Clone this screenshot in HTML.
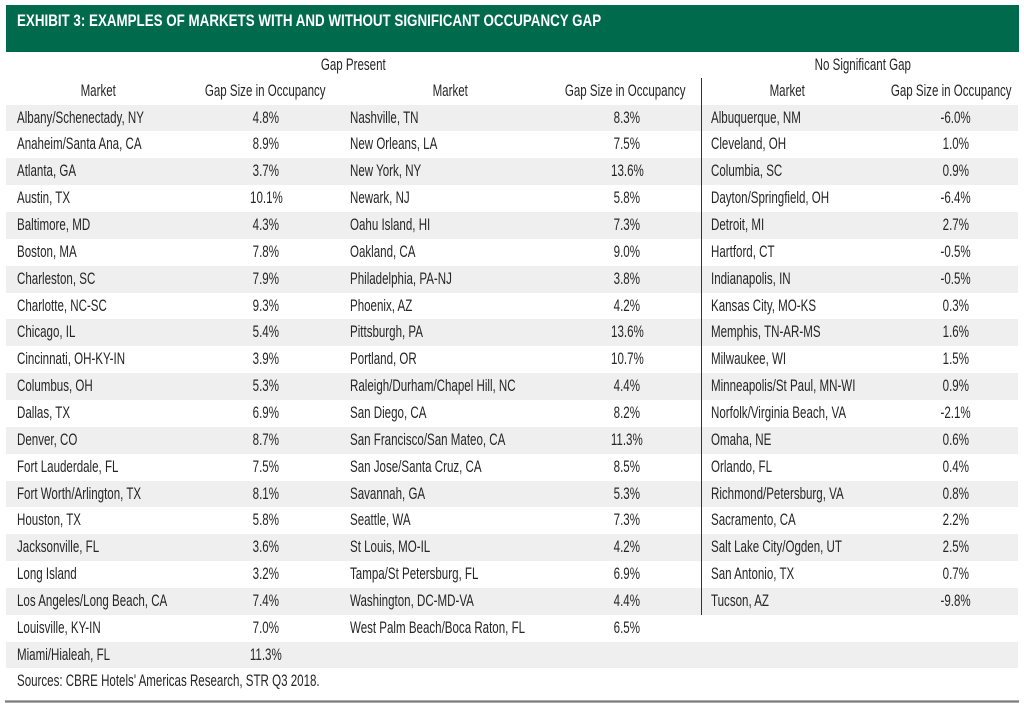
<!DOCTYPE html>
<html><head><meta charset="utf-8"><style>
*{margin:0;padding:0;box-sizing:border-box}
body{width:1024px;height:709px;background:#fff;position:relative;overflow:hidden;font-family:"Liberation Sans",Arial,sans-serif;color:#262626;font-size:16.5px}
.band{position:absolute;left:6px;top:5px;width:1013px;height:47px;background:#006a4d}
.title{position:absolute;left:17px;top:12px;height:18px;line-height:18px;color:#fff;font-weight:bold;white-space:nowrap}
.title span{display:inline-block;transform:scaleX(.81);transform-origin:left center}
.r{position:absolute;left:6px;width:1012px;height:26.85px;line-height:26.85px;white-space:nowrap}
.s{background:#efefef}
.l{position:absolute;top:0}
.l span{display:inline-block;transform:scaleX(.70);transform-origin:left center}
.c{position:absolute;top:0;width:240px;text-align:center}
.c span{display:inline-block;transform:scaleX(.70);transform-origin:center center}
.h{position:absolute;height:26px;line-height:26px;white-space:nowrap}
.vl{position:absolute;left:700.5px;top:78px;width:1.6px;height:537px;background:#333}
.bl{position:absolute;left:5px;top:699.5px;width:1014px;height:3px;background:#7d7d7d;border-top:0.5px solid #aaa;border-bottom:0.5px solid #aaa}
</style></head><body>
<div class="band"></div>
<div class="title"><span>EXHIBIT 3: EXAMPLES OF MARKETS WITH AND WITHOUT SIGNIFICANT OCCUPANCY GAP</span></div>

<div class="r" style="top:52px"><div class="c" style="left:227px"><span>Gap Present</span></div><div class="c" style="left:737px"><span>No Significant Gap</span></div></div>
<div class="r" style="top:78px">
<div class="c" style="left:-28px"><span>Market</span></div>
<div class="c" style="left:139px"><span>Gap Size in Occupancy</span></div>
<div class="c" style="left:324px"><span>Market</span></div>
<div class="c" style="left:499px"><span>Gap Size in Occupancy</span></div>
<div class="c" style="left:661px"><span>Market</span></div>
<div class="c" style="left:825px"><span>Gap Size in Occupancy</span></div>
</div>

<div class="r s" style="top:104.6px"><div class="l" style="left:11px"><span>Albany/Schenectady, NY</span></div><div class="c" style="left:140px"><span>4.8%</span></div><div class="l" style="left:344px"><span>Nashville, TN</span></div><div class="c" style="left:501px"><span>8.3%</span></div><div class="l" style="left:705px"><span>Albuquerque, NM</span></div><div class="c" style="left:830px"><span>-6.0%</span></div></div>
<div class="r" style="top:131.45px"><div class="l" style="left:11px"><span>Anaheim/Santa Ana, CA</span></div><div class="c" style="left:140px"><span>8.9%</span></div><div class="l" style="left:344px"><span>New Orleans, LA</span></div><div class="c" style="left:501px"><span>7.5%</span></div><div class="l" style="left:705px"><span>Cleveland, OH</span></div><div class="c" style="left:830px"><span>1.0%</span></div></div>
<div class="r s" style="top:158.3px"><div class="l" style="left:11px"><span>Atlanta, GA</span></div><div class="c" style="left:140px"><span>3.7%</span></div><div class="l" style="left:344px"><span>New York, NY</span></div><div class="c" style="left:501px"><span>13.6%</span></div><div class="l" style="left:705px"><span>Columbia, SC</span></div><div class="c" style="left:830px"><span>0.9%</span></div></div>
<div class="r" style="top:185.15px"><div class="l" style="left:11px"><span>Austin, TX</span></div><div class="c" style="left:140px"><span>10.1%</span></div><div class="l" style="left:344px"><span>Newark, NJ</span></div><div class="c" style="left:501px"><span>5.8%</span></div><div class="l" style="left:705px"><span>Dayton/Springfield, OH</span></div><div class="c" style="left:830px"><span>-6.4%</span></div></div>
<div class="r s" style="top:212px"><div class="l" style="left:11px"><span>Baltimore, MD</span></div><div class="c" style="left:140px"><span>4.3%</span></div><div class="l" style="left:344px"><span>Oahu Island, HI</span></div><div class="c" style="left:501px"><span>7.3%</span></div><div class="l" style="left:705px"><span>Detroit, MI</span></div><div class="c" style="left:830px"><span>2.7%</span></div></div>
<div class="r" style="top:238.85px"><div class="l" style="left:11px"><span>Boston, MA</span></div><div class="c" style="left:140px"><span>7.8%</span></div><div class="l" style="left:344px"><span>Oakland, CA</span></div><div class="c" style="left:501px"><span>9.0%</span></div><div class="l" style="left:705px"><span>Hartford, CT</span></div><div class="c" style="left:830px"><span>-0.5%</span></div></div>
<div class="r s" style="top:265.7px"><div class="l" style="left:11px"><span>Charleston, SC</span></div><div class="c" style="left:140px"><span>7.9%</span></div><div class="l" style="left:344px"><span>Philadelphia, PA-NJ</span></div><div class="c" style="left:501px"><span>3.8%</span></div><div class="l" style="left:705px"><span>Indianapolis, IN</span></div><div class="c" style="left:830px"><span>-0.5%</span></div></div>
<div class="r" style="top:292.55px"><div class="l" style="left:11px"><span>Charlotte, NC-SC</span></div><div class="c" style="left:140px"><span>9.3%</span></div><div class="l" style="left:344px"><span>Phoenix, AZ</span></div><div class="c" style="left:501px"><span>4.2%</span></div><div class="l" style="left:705px"><span>Kansas City, MO-KS</span></div><div class="c" style="left:830px"><span>0.3%</span></div></div>
<div class="r s" style="top:319.4px"><div class="l" style="left:11px"><span>Chicago, IL</span></div><div class="c" style="left:140px"><span>5.4%</span></div><div class="l" style="left:344px"><span>Pittsburgh, PA</span></div><div class="c" style="left:501px"><span>13.6%</span></div><div class="l" style="left:705px"><span>Memphis, TN-AR-MS</span></div><div class="c" style="left:830px"><span>1.6%</span></div></div>
<div class="r" style="top:346.25px"><div class="l" style="left:11px"><span>Cincinnati, OH-KY-IN</span></div><div class="c" style="left:140px"><span>3.9%</span></div><div class="l" style="left:344px"><span>Portland, OR</span></div><div class="c" style="left:501px"><span>10.7%</span></div><div class="l" style="left:705px"><span>Milwaukee, WI</span></div><div class="c" style="left:830px"><span>1.5%</span></div></div>
<div class="r s" style="top:373.1px"><div class="l" style="left:11px"><span>Columbus, OH</span></div><div class="c" style="left:140px"><span>5.3%</span></div><div class="l" style="left:344px"><span>Raleigh/Durham/Chapel Hill, NC</span></div><div class="c" style="left:501px"><span>4.4%</span></div><div class="l" style="left:705px"><span>Minneapolis/St Paul, MN-WI</span></div><div class="c" style="left:830px"><span>0.9%</span></div></div>
<div class="r" style="top:399.95px"><div class="l" style="left:11px"><span>Dallas, TX</span></div><div class="c" style="left:140px"><span>6.9%</span></div><div class="l" style="left:344px"><span>San Diego, CA</span></div><div class="c" style="left:501px"><span>8.2%</span></div><div class="l" style="left:705px"><span>Norfolk/Virginia Beach, VA</span></div><div class="c" style="left:830px"><span>-2.1%</span></div></div>
<div class="r s" style="top:426.8px"><div class="l" style="left:11px"><span>Denver, CO</span></div><div class="c" style="left:140px"><span>8.7%</span></div><div class="l" style="left:344px"><span>San Francisco/San Mateo, CA</span></div><div class="c" style="left:501px"><span>11.3%</span></div><div class="l" style="left:705px"><span>Omaha, NE</span></div><div class="c" style="left:830px"><span>0.6%</span></div></div>
<div class="r" style="top:453.65px"><div class="l" style="left:11px"><span>Fort Lauderdale, FL</span></div><div class="c" style="left:140px"><span>7.5%</span></div><div class="l" style="left:344px"><span>San Jose/Santa Cruz, CA</span></div><div class="c" style="left:501px"><span>8.5%</span></div><div class="l" style="left:705px"><span>Orlando, FL</span></div><div class="c" style="left:830px"><span>0.4%</span></div></div>
<div class="r s" style="top:480.5px"><div class="l" style="left:11px"><span>Fort Worth/Arlington, TX</span></div><div class="c" style="left:140px"><span>8.1%</span></div><div class="l" style="left:344px"><span>Savannah, GA</span></div><div class="c" style="left:501px"><span>5.3%</span></div><div class="l" style="left:705px"><span>Richmond/Petersburg, VA</span></div><div class="c" style="left:830px"><span>0.8%</span></div></div>
<div class="r" style="top:507.35px"><div class="l" style="left:11px"><span>Houston, TX</span></div><div class="c" style="left:140px"><span>5.8%</span></div><div class="l" style="left:344px"><span>Seattle, WA</span></div><div class="c" style="left:501px"><span>7.3%</span></div><div class="l" style="left:705px"><span>Sacramento, CA</span></div><div class="c" style="left:830px"><span>2.2%</span></div></div>
<div class="r s" style="top:534.2px"><div class="l" style="left:11px"><span>Jacksonville, FL</span></div><div class="c" style="left:140px"><span>3.6%</span></div><div class="l" style="left:344px"><span>St Louis, MO-IL</span></div><div class="c" style="left:501px"><span>4.2%</span></div><div class="l" style="left:705px"><span>Salt Lake City/Ogden, UT</span></div><div class="c" style="left:830px"><span>2.5%</span></div></div>
<div class="r" style="top:561.05px"><div class="l" style="left:11px"><span>Long Island</span></div><div class="c" style="left:140px"><span>3.2%</span></div><div class="l" style="left:344px"><span>Tampa/St Petersburg, FL</span></div><div class="c" style="left:501px"><span>6.9%</span></div><div class="l" style="left:705px"><span>San Antonio, TX</span></div><div class="c" style="left:830px"><span>0.7%</span></div></div>
<div class="r s" style="top:587.9px"><div class="l" style="left:11px"><span>Los Angeles/Long Beach, CA</span></div><div class="c" style="left:140px"><span>7.4%</span></div><div class="l" style="left:344px"><span>Washington, DC-MD-VA</span></div><div class="c" style="left:501px"><span>4.4%</span></div><div class="l" style="left:705px"><span>Tucson, AZ</span></div><div class="c" style="left:830px"><span>-9.8%</span></div></div>
<div class="r" style="top:614.75px"><div class="l" style="left:11px"><span>Louisville, KY-IN</span></div><div class="c" style="left:140px"><span>7.0%</span></div><div class="l" style="left:344px"><span>West Palm Beach/Boca Raton, FL</span></div><div class="c" style="left:501px"><span>6.5%</span></div></div>
<div class="r s" style="top:641.6px"><div class="l" style="left:11px"><span>Miami/Hialeah, FL</span></div><div class="c" style="left:140px"><span>11.3%</span></div></div>
<div class="r" style="top:668.45px"><div class="l" style="left:11px"><span>Sources: CBRE Hotels' Americas Research, STR Q3 2018.</span></div></div>

<div class="vl"></div>
<div class="bl"></div>
</body></html>
